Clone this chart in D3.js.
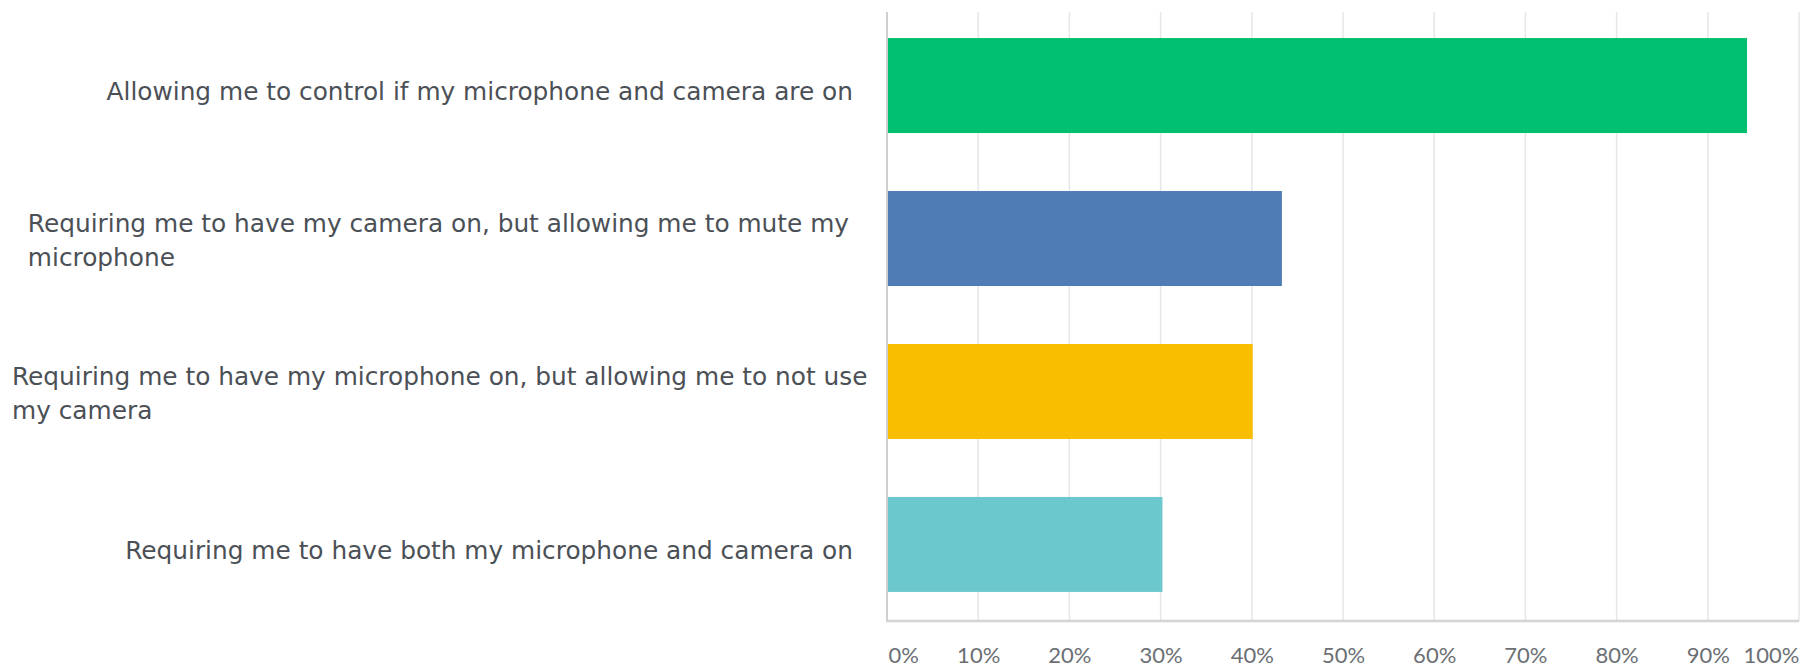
<!DOCTYPE html>
<html>
<head>
<meta charset="utf-8">
<script src="https://cdn.jsdelivr.net/npm/d3@7"></script>
<style>
  body { margin:0; background:#fff; }
  svg { display:block; }
</style>
</head>
<body>
<div id="chart"></div>
<script>
// answer options (pre-wrapped the way the survey tool wrapped them)
var categories = [
    ["Allowing me to control if my microphone and camera are on"],
    ["Requiring me to have my camera on, but allowing me to mute my", "microphone"],
    ["Requiring me to have my microphone on, but allowing me to not use", "my camera"],
    ["Requiring me to have both my microphone and camera on"]
];
var values = [94.3, 43.3, 40.1, 30.2];   // percent of respondents
var colors = ["#00bf6f", "#507cb6", "#f9be00", "#6bc8cd"];
var tickValues = [0, 10, 20, 30, 40, 50, 60, 70, 80, 90, 100];

var W = 1817, H = 667;
var top_ = 12, bottom = 621;

var svg = d3.select('#chart').append('svg')
    .attr('width', W).attr('height', H);

var x = d3.scaleLinear().domain([0, 100]).range([887, 1799]);
var y = d3.scaleBand().domain(d3.range(categories.length))
    .range([9, bottom]).paddingInner(0.379).paddingOuter(0.19);

// vertical grid lines
svg.append('g').selectAll('line').data(tickValues.slice(1))
    .enter().append('line')
    .attr('x1', function(d){ return x(d); }).attr('x2', function(d){ return x(d); })
    .attr('y1', top_).attr('y2', bottom)
    .attr('stroke', '#e6e6e6').attr('stroke-width', 1.5);

// bars
svg.append('g').selectAll('rect').data(values)
    .enter().append('rect')
    .attr('x', x(0))
    .attr('y', function(d, i){ return y(i); })
    .attr('width', function(d){ return x(d) - x(0); })
    .attr('height', y.bandwidth())
    .attr('fill', function(d, i){ return colors[i]; });

// axis lines
svg.append('line').attr('x1', x(0)).attr('x2', x(0)).attr('y1', top_).attr('y2', bottom)
    .attr('stroke', '#cfcfcf').attr('stroke-width', 2);
svg.append('line').attr('x1', x(0) - 1).attr('x2', x(100)).attr('y1', bottom).attr('y2', bottom)
    .attr('stroke', '#d4d4d4').attr('stroke-width', 2.5);

// x tick labels (first/last kept inside the plot)
var xAxis = d3.axisBottom(x).tickValues(tickValues).tickSize(0).tickPadding(0)
    .tickFormat(function(d){ return d + '%'; });
var gx = svg.append('g').attr('transform', 'translate(0,' + 655 + ')').call(xAxis);
gx.select('.domain').remove();
gx.selectAll('text')
    .attr('dy', '0.35em')
    .attr('font-family', 'Lato, sans-serif').attr('font-size', 22)
    .attr('fill', '#6b6f74')
    .attr('text-anchor', function(d){ return d == 0 ? 'start' : (d == 100 ? 'end' : 'middle'); })
    .attr('x', function(d){ return d == 0 ? 1 : 0; });

// category labels
var labelRight = 853, lineH = 34;
var lg = svg.append('g');
categories.forEach(function(lines, i){
    var cy = y(i) + y.bandwidth() / 2;
    var t = lg.append('text')
        .attr('font-family', '"DejaVu Sans", sans-serif').attr('font-size', 24.8)
        .attr('fill', '#4b5056');
    if (lines.length == 1) {
        t.attr('text-anchor', 'end').attr('x', labelRight).attr('y', cy + 6).attr('dy', '0.35em')
            .text(lines[0]);
    } else {
        var spans = t.selectAll('tspan').data(lines).enter().append('tspan')
            .attr('y', function(d, j){ return cy + 2 + (j - (lines.length - 1) / 2) * lineH; })
            .attr('dy', '0.35em')
            .text(function(d){ return d; });
        var maxW = 0;
        spans.each(function(){ maxW = Math.max(maxW, this.getComputedTextLength()); });
        var left = Math.max(12, labelRight - 4 - maxW);
        spans.attr('x', left);
    }
});
</script>
</body>
</html>
